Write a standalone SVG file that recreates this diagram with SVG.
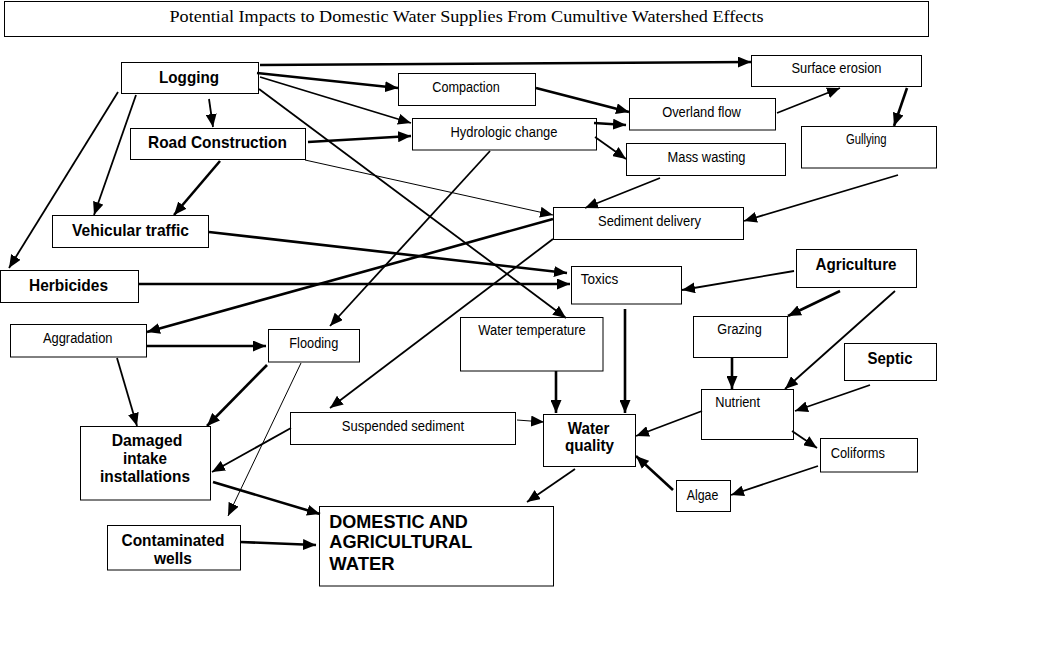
<svg xmlns="http://www.w3.org/2000/svg" width="1057" height="669" viewBox="0 0 1057 669">
<style>
  .box { fill: #fff; stroke: #000; stroke-width: 1; }
  .ttl { font-family: "Liberation Serif", "Times New Roman", serif; font-size: 17px; fill: #000; text-anchor: middle; }
  .b { font-family: "Liberation Sans", Arial, sans-serif; font-size: 17px; font-weight: bold; fill: #000; text-anchor: middle; }
  .bl { font-family: "Liberation Sans", Arial, sans-serif; font-size: 18px; font-weight: bold; fill: #000; }
  .s { font-family: "Liberation Sans", Arial, sans-serif; font-size: 14px; fill: #000; text-anchor: middle; }
  .sl { font-family: "Liberation Sans", Arial, sans-serif; font-size: 14px; fill: #000; }
  .c { fill: none; stroke: #000; marker-end: url(#ah); }
  .t1 { stroke-width: 1; }
  .t2 { stroke-width: 1.8; }
  .t3 { stroke-width: 2.6; }
</style>
<defs>
  <marker id="ah" markerUnits="userSpaceOnUse" markerWidth="13" markerHeight="11" refX="13" refY="5.5" orient="auto">
    <path d="M0,0 L13,5.5 L0,11 Z" fill="#000"/>
  </marker>
</defs>
<rect width="1057" height="669" fill="#fff"/>

<g id="title">
  <rect class="box" x="4.5" y="1.5" width="924" height="35"/>
  <text class="ttl" x="466.5" y="21.5" textLength="594" lengthAdjust="spacingAndGlyphs">Potential Impacts to Domestic Water Supplies From Cumultive Watershed Effects</text>
</g>

<g id="nodes">
  <g id="logging"><rect class="box" x="121.5" y="62.5" width="137" height="31"/><text class="b" x="189" y="83" textLength="60" lengthAdjust="spacingAndGlyphs">Logging</text></g>
  <g id="road-construction"><rect class="box" x="130.5" y="128.5" width="175" height="31"/><text class="b" x="217.5" y="148" textLength="139" lengthAdjust="spacingAndGlyphs">Road Construction</text></g>
  <g id="vehicular-traffic"><rect class="box" x="52.5" y="215.5" width="156" height="32"/><text class="b" x="130.5" y="236" textLength="117" lengthAdjust="spacingAndGlyphs">Vehicular traffic</text></g>
  <g id="herbicides"><rect class="box" x="0.5" y="270.5" width="138" height="32"/><text class="b" x="68.5" y="291" textLength="79" lengthAdjust="spacingAndGlyphs">Herbicides</text></g>
  <g id="compaction"><rect class="box" x="398.5" y="73.5" width="137" height="32"/><text class="s" x="466" y="91.5" textLength="67.5" lengthAdjust="spacingAndGlyphs">Compaction</text></g>
  <g id="surface-erosion"><rect class="box" x="751.5" y="55.5" width="170" height="31"/><text class="s" x="836.5" y="73" textLength="90" lengthAdjust="spacingAndGlyphs">Surface erosion</text></g>
  <g id="hydrologic-change"><rect class="box" x="412.5" y="118.5" width="184" height="31.5"/><text class="s" x="504" y="136.5" textLength="107" lengthAdjust="spacingAndGlyphs">Hydrologic change</text></g>
  <g id="overland-flow"><rect class="box" x="629.5" y="98.5" width="146" height="31.5"/><text class="s" x="701.5" y="116.5" textLength="78.7" lengthAdjust="spacingAndGlyphs">Overland flow</text></g>
  <g id="mass-wasting"><rect class="box" x="626.5" y="143.5" width="159" height="32"/><text class="s" x="706.5" y="161.5" textLength="78" lengthAdjust="spacingAndGlyphs">Mass wasting</text></g>
  <g id="gullying"><rect class="box" x="801.5" y="126.5" width="135" height="41.5"/><text class="s" x="866.3" y="144" textLength="40.7" lengthAdjust="spacingAndGlyphs">Gullying</text></g>
  <g id="sediment-delivery"><rect class="box" x="553.5" y="207.5" width="190" height="32"/><text class="s" x="649.5" y="225.5" textLength="103" lengthAdjust="spacingAndGlyphs">Sediment delivery</text></g>
  <g id="toxics"><rect class="box" x="571.5" y="266.5" width="110" height="37.5"/><text class="sl" x="580.7" y="284" textLength="37.6" lengthAdjust="spacingAndGlyphs">Toxics</text></g>
  <g id="agriculture"><rect class="box" x="796.5" y="249.5" width="120" height="38"/><text class="b" x="856" y="269.5" textLength="81" lengthAdjust="spacingAndGlyphs">Agriculture</text></g>
  <g id="aggradation"><rect class="box" x="10.5" y="324.5" width="136" height="32.5"/><text class="s" x="77.7" y="343" textLength="69.6" lengthAdjust="spacingAndGlyphs">Aggradation</text></g>
  <g id="flooding"><rect class="box" x="268.5" y="329.5" width="91" height="32.5"/><text class="s" x="313.8" y="347.5" textLength="49" lengthAdjust="spacingAndGlyphs">Flooding</text></g>
  <g id="water-temperature"><rect class="box" x="460.5" y="317.5" width="142.5" height="53.5"/><text class="s" x="532" y="335" textLength="107.4" lengthAdjust="spacingAndGlyphs">Water temperature</text></g>
  <g id="grazing"><rect class="box" x="693.5" y="316.5" width="94" height="41"/><text class="s" x="739.5" y="334" textLength="44.4" lengthAdjust="spacingAndGlyphs">Grazing</text></g>
  <g id="septic"><rect class="box" x="844.5" y="343.5" width="92" height="37"/><text class="b" x="890" y="363.5" textLength="45" lengthAdjust="spacingAndGlyphs">Septic</text></g>
  <g id="nutrient"><rect class="box" x="701.5" y="389.5" width="92" height="50"/><text class="sl" x="715.3" y="406.5" textLength="44.7" lengthAdjust="spacingAndGlyphs">Nutrient</text></g>
  <g id="suspended-sediment"><rect class="box" x="290.5" y="412.5" width="225" height="32"/><text class="s" x="403" y="430.5" textLength="122.3" lengthAdjust="spacingAndGlyphs">Suspended sediment</text></g>
  <g id="water-quality"><rect class="box" x="543.5" y="414.5" width="92" height="52"/><text class="b" x="588.5" y="433.5" textLength="41.6" lengthAdjust="spacingAndGlyphs">Water</text><text class="b" x="589.5" y="450.5" textLength="49" lengthAdjust="spacingAndGlyphs">quality</text></g>
  <g id="coliforms"><rect class="box" x="820.5" y="438.5" width="97" height="33.5"/><text class="sl" x="830.7" y="458" textLength="54.3" lengthAdjust="spacingAndGlyphs">Coliforms</text></g>
  <g id="algae"><rect class="box" x="676.5" y="480.5" width="54" height="31"/><text class="s" x="702.5" y="499.5" textLength="31.6" lengthAdjust="spacingAndGlyphs">Algae</text></g>
  <g id="damaged-intake"><rect class="box" x="80.5" y="426.5" width="130" height="73.5"/><text class="b" x="147" y="446" textLength="70.7" lengthAdjust="spacingAndGlyphs">Damaged</text><text class="b" x="145" y="464" textLength="44" lengthAdjust="spacingAndGlyphs">intake</text><text class="b" x="145" y="482" textLength="90" lengthAdjust="spacingAndGlyphs">installations</text></g>
  <g id="contaminated-wells"><rect class="box" x="107.5" y="525.5" width="133" height="44.5"/><text class="b" x="173" y="545.5" textLength="103" lengthAdjust="spacingAndGlyphs">Contaminated</text><text class="b" x="173" y="563.5" textLength="38" lengthAdjust="spacingAndGlyphs">wells</text></g>
  <g id="domestic-agricultural-water"><rect class="box" x="319.5" y="506.5" width="234" height="79.5"/><text class="bl" x="329.3" y="527.5" textLength="138.6" lengthAdjust="spacingAndGlyphs">DOMESTIC AND</text><text class="bl" x="329.3" y="548" textLength="143" lengthAdjust="spacingAndGlyphs">AGRICULTURAL</text><text class="bl" x="329.3" y="569.5" textLength="65.3" lengthAdjust="spacingAndGlyphs">WATER</text></g>
</g>

<g id="connectors">
  <line class="c t3" x1="260" y1="65" x2="751" y2="62"/>
  <line class="c t3" x1="257" y1="73" x2="398" y2="88"/>
  <line class="c t2" x1="260" y1="77" x2="411" y2="123"/>
  <line class="c t2" x1="259" y1="89" x2="566" y2="318"/>
  <line class="c t2" x1="209" y1="99" x2="213" y2="127"/>
  <line class="c t2" x1="136" y1="95" x2="94" y2="215"/>
  <line class="c t2" x1="118" y1="92" x2="9" y2="268"/>
  <line class="c t3" x1="308" y1="142" x2="411" y2="136"/>
  <line class="c t3" x1="220" y1="161" x2="174" y2="215"/>
  <line class="c t1" x1="305" y1="160" x2="553" y2="215"/>
  <line class="c t3" x1="536" y1="88" x2="629" y2="112"/>
  <line class="c t3" x1="594" y1="123" x2="626" y2="125"/>
  <line class="c t2" x1="595" y1="137" x2="626" y2="159"/>
  <line class="c t2" x1="490" y1="151" x2="330" y2="326"/>
  <line class="c t2" x1="777" y1="113" x2="840" y2="88"/>
  <line class="c t3" x1="907" y1="88" x2="894" y2="126"/>
  <line class="c t2" x1="660" y1="178" x2="585" y2="208"/>
  <line class="c t2" x1="898" y1="175" x2="744" y2="221"/>
  <line class="c t3" x1="553" y1="219" x2="147" y2="332"/>
  <line class="c t2" x1="553" y1="239" x2="330" y2="408"/>
  <line class="c t3" x1="209" y1="232" x2="567" y2="273"/>
  <line class="c t3" x1="138" y1="284" x2="570" y2="284"/>
  <line class="c t2" x1="794" y1="271" x2="682" y2="290"/>
  <line class="c t3" x1="840" y1="291" x2="788" y2="316"/>
  <line class="c t2" x1="895" y1="291" x2="785" y2="389"/>
  <line class="c t3" x1="625" y1="309" x2="625" y2="413"/>
  <line class="c t3" x1="556" y1="371" x2="556" y2="413"/>
  <line class="c t3" x1="732" y1="358" x2="732" y2="389"/>
  <line class="c t2" x1="870" y1="385" x2="795" y2="411"/>
  <line class="c t2" x1="702" y1="411" x2="636" y2="436"/>
  <line class="c t2" x1="792" y1="431" x2="817" y2="448"/>
  <line class="c t2" x1="818" y1="466" x2="731" y2="495"/>
  <line class="c t3" x1="673" y1="490" x2="636" y2="456"/>
  <line class="c t2" x1="575" y1="469" x2="527" y2="502"/>
  <line class="c t1" x1="517" y1="420" x2="544" y2="422"/>
  <line class="c t2" x1="291" y1="428" x2="212" y2="472"/>
  <line class="c t3" x1="147" y1="346" x2="266" y2="346"/>
  <line class="c t2" x1="117" y1="358" x2="137" y2="426"/>
  <line class="c t3" x1="267" y1="365" x2="207" y2="426"/>
  <line class="c t1" x1="301" y1="363" x2="228" y2="516"/>
  <line class="c t3" x1="213" y1="482" x2="320" y2="514"/>
  <line class="c t3" x1="240" y1="542" x2="316" y2="545"/>
</g>
</svg>
